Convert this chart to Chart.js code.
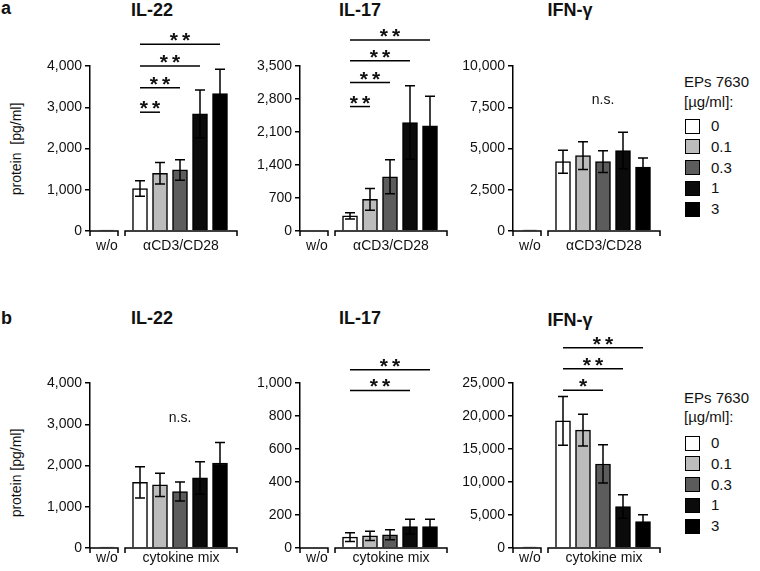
<!DOCTYPE html>
<html>
<head>
<meta charset="utf-8">
<script src="https://cdn.jsdelivr.net/npm/chart.js@4/dist/chart.umd.min.js"></script>
<style>
  html, body { margin:0; padding:0; background:#fff; }
  body { width:760px; height:571px; position:relative; overflow:hidden; font-family:"Liberation Sans", Arial, sans-serif; color:#111; }
  canvas { position:absolute; }
  .t { position:absolute; transform:translate(-50%,-50%); white-space:nowrap; }
  .title { font-weight:bold; font-size:18px; }
  .letter { position:absolute; font-weight:bold; font-size:18px; }
  .ylab { position:absolute; font-size:14px; transform:translate(-50%,-50%) rotate(-90deg); white-space:nowrap; }
  .leg { position:absolute; font-size:15px; white-space:nowrap; }
  .box { position:absolute; width:15px; height:15px; box-sizing:border-box; border:1.5px solid #000; }
</style>
</head>
<body>
<div class="letter" style="left:1px;top:-2px;">a</div>
<div class="letter" style="left:1px;top:308px;">b</div>
<div class="ylab" style="left:16px;top:149px;">protein&nbsp;&nbsp;[pg/ml]</div>
<div class="ylab" style="left:16px;top:473px;">protein [pg/ml]</div>
<script>
// ---------- data ----------
const doses = ['0', '0.1', '0.3', '1', '3'];
const groupsA = ['w/o', 'αCD3/CD28'];
const groupsB = ['w/o', 'cytokine mix'];
const cytokines = ['IL-22', 'IL-17', 'IFN-γ'];

// panel a (αCD3/CD28)
const aIL22_wo = 20;
const aIL22 = [1030, 1400, 1480, 2840, 3330];
const aIL22_sd = [190, 260, 250, 580, 590];
const aIL17_wo = 0;
const aIL17 = [320, 670, 1150, 2300, 2230];
const aIL17_sd = [65, 230, 360, 780, 630];
const aIFNG_wo = 60;
const aIFNG = [4200, 4570, 4200, 4880, 3870];
const aIFNG_sd = [700, 840, 660, 1100, 550];

// panel b (cytokine mix)
const bIL22_wo = 20;
const bIL22 = [1590, 1530, 1370, 1700, 2060];
const bIL22_sd = [380, 280, 230, 390, 500];
const bIL17_wo = 0;
const bIL17 = [66, 74, 80, 130, 130];
const bIL17_sd = [27, 28, 30, 45, 45];
const bIFNG_wo = 150;
const bIFNG = [19250, 17860, 12730, 6280, 4020];
const bIFNG_sd = [3700, 2400, 2900, 1770, 1000];

// y-axis ticks: [max, step]
const aIL22_axis = [4000, 1000];
const aIL17_axis = [3500, 700];
const aIFNG_axis = [10000, 2500];
const bIL22_axis = [4000, 1000];
const bIL17_axis = [1000, 200];
const bIFNG_axis = [25000, 5000];

// significance: [target dose index, bracket height (data units), label]
const aIL22_sig = [[4, 4530, '**'], [3, 4000, '**'], [2, 3470, '**'], [1, 2880, '**']];
const aIL17_sig = [[4, 4050, '**'], [3, 3610, '**'], [2, 3150, '**'], [1, 2640, '**']];
const aIFNG_sig = [];
const bIL22_sig = [];
const bIL17_sig = [[4, 1080, '**'], [3, 955, '**']];
const bIFNG_sig = [[4, 30340, '**'], [3, 27170, '**'], [2, 23900, '*']];
const aIFNG_ns = 7950;   // height of "n.s." label
const bIL22_ns = 3160;

// ---------- styles / layout ----------
const fills = ['#ffffff', '#bcbcbc', '#5c5c5c', '#0b0b0b', '#000000'];
const FONT = "'Liberation Sans', Arial, sans-serif";
const colX = [90, 300, 513];          // y-axis positions
const rows = [
  { top: 0,   h: 260, padTop: 66, padBot: 29, labOff: 15 },
  { top: 300, h: 271, padTop: 83, padBot: 23, labOff: 10 }
];
const AXW = 85, PLOTW = 147, PADR = 20;
const XMIN = -0.85, XMAX = 6.5, WOX = 0, TX0 = 1.65;

const panels = [
  { row: 0, col: 0, wo: aIL22_wo, v: aIL22, sd: aIL22_sd, ax: aIL22_axis, sig: aIL22_sig, ns: null, grp: groupsA },
  { row: 0, col: 1, wo: aIL17_wo, v: aIL17, sd: aIL17_sd, ax: aIL17_axis, sig: aIL17_sig, ns: null, grp: groupsA },
  { row: 0, col: 2, wo: aIFNG_wo, v: aIFNG, sd: aIFNG_sd, ax: aIFNG_axis, sig: aIFNG_sig, ns: aIFNG_ns, grp: groupsA },
  { row: 1, col: 0, wo: bIL22_wo, v: bIL22, sd: bIL22_sd, ax: bIL22_axis, sig: bIL22_sig, ns: bIL22_ns, grp: groupsB },
  { row: 1, col: 1, wo: bIL17_wo, v: bIL17, sd: bIL17_sd, ax: bIL17_axis, sig: bIL17_sig, ns: null, grp: groupsB },
  { row: 1, col: 2, wo: bIFNG_wo, v: bIFNG, sd: bIFNG_sd, ax: bIFNG_axis, sig: bIFNG_sig, ns: null, grp: groupsB }
];
const titleCenters = [[152, 10, 360, 10, 570, 10], [152, 318, 360, 318, 570, 320]];

// titles
rows.forEach((r, ri) => {
  cytokines.forEach((c, ci) => {
    const d = document.createElement('div');
    d.className = 't title';
    d.style.left = titleCenters[ri][ci * 2] + 'px';
    d.style.top = titleCenters[ri][ci * 2 + 1] + 'px';
    d.textContent = c;
    document.body.appendChild(d);
  });
});

// legends
const legendPos = [
  { x: 684, head: [82, 102], boxes: 126 },
  { x: 684, head: [398, 417], boxes: 443 }
];
legendPos.forEach(L => {
  ['EPs 7630', '[µg/ml]:'].forEach((s, i) => {
    const d = document.createElement('div');
    d.className = 'leg';
    d.style.left = L.x + 'px';
    d.style.top = (L.head[i] - 9) + 'px';
    d.textContent = s;
    document.body.appendChild(d);
  });
  doses.forEach((s, i) => {
    const cy = L.boxes + i * 20.8;
    const b = document.createElement('div');
    b.className = 'box';
    b.style.left = (L.x + 1) + 'px';
    b.style.top = (cy - 7.5) + 'px';
    b.style.background = fills[i];
    document.body.appendChild(b);
    const t = document.createElement('div');
    t.className = 'leg';
    t.style.left = (L.x + 27) + 'px';
    t.style.top = (cy - 9) + 'px';
    t.textContent = s;
    document.body.appendChild(t);
  });
});

// plugin: x-axis segments, labels, error bars, significance brackets
const extras = {
  id: 'extras',
  afterDraw(chart) {
    const p = chart.options.plugins.extras;
    const ctx = chart.ctx, xs = chart.scales.x, ys = chart.scales.y;
    const y0 = ys.getPixelForValue(0);
    ctx.save();
    ctx.strokeStyle = '#000';
    ctx.lineWidth = 1.5;
    // x-axis segments
    const segs = [[XMIN, 0.55], [0.9, XMAX]];
    segs.forEach(([a, b]) => {
      const xa = xs.getPixelForValue(a), xb = xs.getPixelForValue(b);
      ctx.beginPath();
      ctx.moveTo(xa, y0 + 5); ctx.lineTo(xa, y0); ctx.lineTo(xb, y0); ctx.lineTo(xb, y0 + 5);
      ctx.stroke();
    });
    // group labels
    ctx.fillStyle = '#111';
    ctx.font = '14px ' + FONT;
    ctx.textAlign = 'center';
    ctx.textBaseline = 'middle';
    ctx.fillText(p.grp[0], xs.getPixelForValue(WOX), y0 + p.labOff);
    ctx.fillText(p.grp[1], (xs.getPixelForValue(0.9) + xs.getPixelForValue(XMAX)) / 2, y0 + p.labOff);
    // error bars
    p.v.forEach((m, i) => {
      const x = xs.getPixelForValue(TX0 + i);
      const yt = ys.getPixelForValue(m + p.sd[i]), yb = ys.getPixelForValue(m - p.sd[i]);
      ctx.beginPath();
      ctx.moveTo(x, yt); ctx.lineTo(x, yb);
      ctx.moveTo(x - 5, yt); ctx.lineTo(x + 5, yt);
      ctx.moveTo(x - 5, yb); ctx.lineTo(x + 5, yb);
      ctx.stroke();
    });
    // significance brackets
    ctx.font = 'bold 21px ' + FONT;
    ctx.textBaseline = 'alphabetic';
    p.sig.forEach(([to, h, lab]) => {
      const xa = xs.getPixelForValue(TX0), xb = xs.getPixelForValue(TX0 + to);
      const y = ys.getPixelForValue(h);
      ctx.beginPath(); ctx.moveTo(xa, y); ctx.lineTo(xb, y); ctx.stroke();
      ctx.fillText(lab.split('').join('\u2009'), (xa + xb) / 2, y + 3);
    });
    if (p.ns !== null) {
      ctx.font = '14px ' + FONT;
      ctx.textBaseline = 'middle';
      ctx.fillText('n.s.', xs.getPixelForValue(TX0 + 2), ys.getPixelForValue(p.ns));
    }
    ctx.restore();
  }
};

panels.forEach(P => {
  const r = rows[P.row];
  const cv = document.createElement('canvas');
  const W = AXW + PLOTW + PADR;
  cv.width = W; cv.height = r.h;
  cv.style.left = (colX[P.col] - AXW) + 'px';
  cv.style.top = r.top + 'px';
  cv.style.width = W + 'px'; cv.style.height = r.h + 'px';
  document.body.appendChild(cv);
  const pts = [{ x: WOX, y: P.wo }].concat(P.v.map((m, i) => ({ x: TX0 + i, y: m })));
  new Chart(cv, {
    type: 'bar',
    data: {
      datasets: [{
        data: pts,
        backgroundColor: ['#000'].concat(fills),
        borderColor: '#000',
        borderWidth: 1.5,
        barThickness: 15
      }]
    },
    options: {
      responsive: false,
      animation: false,
      devicePixelRatio: 1,
      layout: { padding: { top: r.padTop, bottom: r.padBot, left: 0, right: PADR } },
      plugins: {
        legend: { display: false },
        tooltip: { enabled: false },
        extras: { v: P.v, sd: P.sd, sig: P.sig, ns: P.ns, grp: P.grp, labOff: r.labOff }
      },
      scales: {
        x: { type: 'linear', min: XMIN, max: XMAX, offset: false, display: false },
        y: {
          min: 0, max: P.ax[0],
          afterFit: s => { s.width = AXW; },
          ticks: {
            stepSize: P.ax[1],
            padding: 3,
            color: '#111',
            font: { family: FONT, size: 14 },
            callback: v => v.toLocaleString('en-US')
          },
          grid: { drawOnChartArea: false, drawTicks: true, tickLength: 5, color: '#000', lineWidth: 1.5 },
          border: { display: true, color: '#000', width: 1.5 }
        }
      }
    },
    plugins: [extras]
  });
});
</script>
</body>
</html>
